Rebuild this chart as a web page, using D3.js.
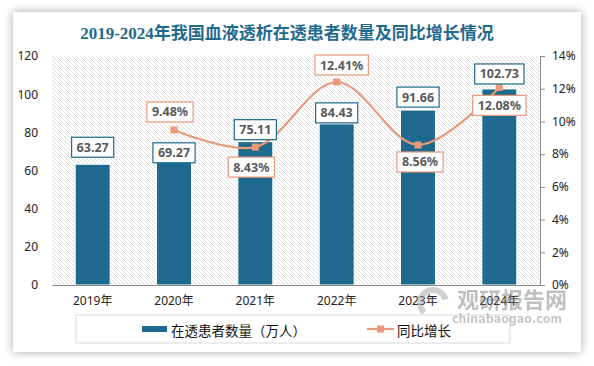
<!DOCTYPE html>
<html>
<head>
<meta charset="utf-8">
<script src="https://cdnjs.cloudflare.com/ajax/libs/d3/7.8.5/d3.min.js"></script>
<style>
  html, body { margin: 0; padding: 0; background: #fff; }
  svg { display: block; }
</style>
</head>
<body>
<svg id="chart" width="594" height="366"></svg>
<script>
// data
var years = ["2019年", "2020年", "2021年", "2022年", "2023年", "2024年"]
var patients = [63.27, 69.27, 75.11, 84.43, 91.66, 102.73]
var growthYears = ["2020年", "2021年", "2022年", "2023年", "2024年"]
var growth = [9.48, 8.43, 12.41, 8.56, 12.08]
var leftTicks = [0, 20, 40, 60, 80, 100, 120]
var rightTicks = [0, 2, 4, 6, 8, 10, 12, 14]

// hand nudges for the label boxes (pixels from the mark)
var barLabelDy = [-17, 0, -12, -11, -13, -15]
var lineLabelShift = [[-4, -18], [-4, 20], [5, -17], [2, 17], [0, 18]]

var blue = "#1d6a8e"
var salmon = "#e8997a"
var textGrey = "#595959"

var svg = d3.select("#chart")
var defs = svg.append("defs")

var shadow = defs.append("filter").attr("id", "shadow")
  .attr("x", "-10%").attr("y", "-10%").attr("width", "120%").attr("height", "120%")
shadow.append("feDropShadow")
  .attr("dx", 0).attr("dy", 0).attr("stdDeviation", 5)
  .attr("flood-color", "#000").attr("flood-opacity", 0.35)

var hatch = defs.append("pattern").attr("id", "hatch")
  .attr("patternUnits", "userSpaceOnUse")
  .attr("width", 4).attr("height", 4)
hatch.append("rect").attr("width", 4).attr("height", 4).attr("fill", "#fff")
hatch.append("path").attr("d", "M-1,-1 L5,5 M-1,3 L1,5 M3,-1 L5,1")
  .attr("stroke", "#d4d4d4").attr("stroke-width", 0.8)

// card
svg.append("rect")
  .attr("x", 13).attr("y", 12).attr("width", 568).attr("height", 340)
  .attr("fill", "#fff").attr("filter", "url(#shadow)")

svg.append("text")
  .attr("x", 287).attr("y", 39)
  .attr("text-anchor", "middle")
  .attr("font-family", "'Liberation Serif', 'Noto Sans CJK SC', serif")
  .attr("font-weight", "bold").attr("font-size", 17)
  .attr("fill", "#1f6a8e")
  .text("2019-2024年我国血液透析在透患者数量及同比增长情况")

var plot = { left: 52, right: 540, top: 56, bottom: 285 }

var x = d3.scaleBand().domain(years)
  .range([plot.left, plot.right]).paddingInner(0.57).paddingOuter(0.285)
var yL = d3.scaleLinear().domain([0, 120]).range([plot.bottom, plot.top])
var yR = d3.scaleLinear().domain([0, 14]).range([plot.bottom, plot.top])

svg.append("rect")
  .attr("x", plot.left).attr("y", plot.top)
  .attr("width", plot.right - plot.left).attr("height", plot.bottom - plot.top)
  .attr("fill", "url(#hatch)")

var tickFont = "'Noto Sans', 'Noto Sans CJK SC', sans-serif"

// left axis
var leftAxis = svg.append("g")
  .attr("transform", "translate(" + (plot.left - 14) + ",0)")
  .call(d3.axisLeft(yL).tickValues(leftTicks).tickSize(0).tickPadding(0))
leftAxis.select(".domain").remove()
leftAxis.selectAll("text").attr("font-family", tickFont).attr("font-size", 12).attr("fill", "#222")

// right axis
var rightAxis = svg.append("g")
  .attr("transform", "translate(" + plot.right + ",0)")
  .call(d3.axisRight(yR).tickValues(rightTicks).tickSize(5).tickPadding(7)
    .tickFormat(function(d){ return d + "%" }))
rightAxis.select(".domain").attr("stroke", "#8c8c8c")
rightAxis.selectAll("line").attr("stroke", "#8c8c8c")
rightAxis.selectAll("text").attr("font-family", tickFont).attr("font-size", 12).attr("fill", "#222")

// bars
svg.selectAll(".bar")
  .data(patients)
  .enter().append("rect")
  .attr("class", "bar")
  .attr("x", function(d, i){ return x(years[i]) })
  .attr("y", function(d){ return yL(d) })
  .attr("width", x.bandwidth())
  .attr("height", function(d){ return plot.bottom - yL(d) })
  .attr("fill", blue)
  .attr("stroke", "#fff").attr("stroke-width", 1)

// bottom axis
var bottomAxis = svg.append("g")
  .attr("transform", "translate(0," + plot.bottom + ")")
  .call(d3.axisBottom(x).tickSize(0).tickPadding(11))
bottomAxis.select(".domain").attr("stroke", "#8c8c8c").attr("stroke-width", 1.2)
bottomAxis.selectAll("text").attr("font-family", tickFont).attr("font-size", 12).attr("fill", "#222")

// growth line
var cx = function(i){ return x(growthYears[i]) + x.bandwidth() / 2 }
var line = d3.line()
  .x(function(d, i){ return cx(i) })
  .y(function(d){ return yR(d) })
  .curve(d3.curveCatmullRom.alpha(0.5))

svg.append("path")
  .datum(growth)
  .attr("d", line)
  .attr("fill", "none")
  .attr("stroke", salmon).attr("stroke-width", 2.2)

svg.selectAll(".marker")
  .data(growth)
  .enter().append("rect")
  .attr("class", "marker")
  .attr("x", function(d, i){ return cx(i) - 3.5 })
  .attr("y", function(d){ return yR(d) - 3.5 })
  .attr("width", 7).attr("height", 7)
  .attr("fill", salmon)

// label boxes
function labelBox(g, cxv, cyv, txt, border) {
  var t = g.append("text")
    .attr("x", cxv).attr("y", cyv)
    .attr("text-anchor", "middle").attr("dominant-baseline", "central")
    .attr("font-family", tickFont).attr("font-weight", "bold")
    .attr("font-size", 12.5).attr("fill", textGrey)
    .text(txt)
  var w = t.node().getComputedTextLength() + 10
  g.insert("rect", "text")
    .attr("x", cxv - w / 2).attr("y", cyv - 10)
    .attr("width", w).attr("height", 20)
    .attr("fill", "#fff").attr("stroke", border).attr("stroke-width", 1.2)
}

patients.forEach(function(d, i){
  var g = svg.append("g")
  labelBox(g, x(years[i]) + x.bandwidth() / 2, yL(d) + barLabelDy[i], d.toFixed(2), blue)
})
growth.forEach(function(d, i){
  var g = svg.append("g")
  labelBox(g, cx(i) + lineLabelShift[i][0], yR(d) + lineLabelShift[i][1], d.toFixed(2) + "%", salmon)
})

// legend
var legend = svg.append("g")
legend.append("rect")
  .attr("x", 76).attr("y", 315).attr("width", 434).attr("height", 28)
  .attr("fill", "#fff").attr("stroke", "#d9d9d9")
legend.append("rect")
  .attr("x", 142).attr("y", 326).attr("width", 25).attr("height", 6)
  .attr("fill", blue)
legend.append("text")
  .attr("x", 171).attr("y", 329.5).attr("dominant-baseline", "central")
  .attr("font-family", "'Noto Sans CJK SC', sans-serif").attr("font-size", 13.5).attr("fill", "#111")
  .text("在透患者数量（万人）")
legend.append("line")
  .attr("x1", 367).attr("x2", 394).attr("y1", 329).attr("y2", 329)
  .attr("stroke", salmon).attr("stroke-width", 2.2)
legend.append("rect")
  .attr("x", 377).attr("y", 325.5).attr("width", 7).attr("height", 7)
  .attr("fill", salmon)
legend.append("text")
  .attr("x", 397).attr("y", 329.5).attr("dominant-baseline", "central")
  .attr("font-family", "'Noto Sans CJK SC', sans-serif").attr("font-size", 13.5).attr("fill", "#111")
  .text("同比增长")

// watermark
var wm = svg.append("g").attr("opacity", 0.5)
wm.append("path")
  .attr("d", d3.arc()({ innerRadius: 10, outerRadius: 16, startAngle: -2.4, endAngle: 1.3 }))
  .attr("transform", "translate(433,303)")
  .attr("fill", "#a0a0a0")
wm.append("text")
  .attr("x", 457).attr("y", 308)
  .attr("font-family", "'Noto Sans CJK SC', sans-serif").attr("font-weight", "bold")
  .attr("font-size", 22).attr("fill", "#808080")
  .attr("textLength", 110).attr("lengthAdjust", "spacingAndGlyphs")
  .text("观研报告网")
wm.append("text")
  .attr("x", 452).attr("y", 323)
  .attr("font-family", "'DejaVu Sans', sans-serif").attr("font-weight", "bold")
  .attr("font-size", 13).attr("fill", "#909090")
  .attr("textLength", 110).attr("lengthAdjust", "spacingAndGlyphs")
  .text("chinabaogao.com")
</script>
</body>
</html>
